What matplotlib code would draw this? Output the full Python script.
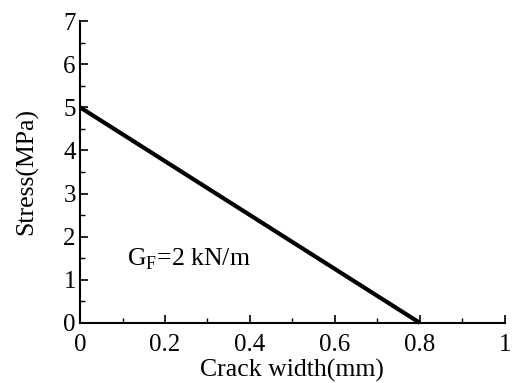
import matplotlib
matplotlib.use("Agg")
import matplotlib.pyplot as plt
from matplotlib.ticker import MultipleLocator

crack_width = [0.0, 0.8]
stress = [5.0, 0.0]
xticks = [0, 0.2, 0.4, 0.6, 0.8, 1]
xtick_labels = ["0", "0.2", "0.4", "0.6", "0.8", "1"]
yticks = [0, 1, 2, 3, 4, 5, 6, 7]
annotation = r"G$_\mathregular{F}$=2 kN/m"

plt.rcParams['font.family'] = ['Liberation Serif', 'DejaVu Serif']
plt.rcParams['mathtext.fontset'] = 'custom'
plt.rcParams['mathtext.rm'] = 'Liberation Serif'

fig = plt.figure(figsize=(5.13, 3.83), dpi=100)
ax = fig.add_axes([0.156, 0.157, 0.828, 0.788])
ax.plot(crack_width, stress, color='black', linewidth=3, solid_capstyle='butt', clip_on=False)
ax.set_xlim(0, 1)
ax.set_ylim(0, 7)
ax.set_xticks(xticks)
ax.set_xticklabels(xtick_labels)
ax.set_yticks(yticks)
ax.xaxis.set_minor_locator(MultipleLocator(0.1))
ax.yaxis.set_minor_locator(MultipleLocator(0.5))
for s in ['top', 'right']:
    ax.spines[s].set_visible(False)
for s in ['left', 'bottom']:
    ax.spines[s].set_linewidth(1.5)
ax.tick_params(which='major', direction='in', length=6, width=1.2, labelsize=18)
ax.tick_params(axis='x', which='major', pad=8)
ax.tick_params(axis='y', which='major', pad=3)
ax.tick_params(which='minor', direction='in', length=3.5, width=1.0)
ax.set_xlabel("Crack width(mm)", fontsize=18.5, labelpad=2)
ax.set_ylabel("Stress(MPa)", fontsize=18.5, labelpad=18)
ax.text(0.11, 1.34, annotation, fontsize=18.5)
fig.savefig("out.png", dpi=100)
